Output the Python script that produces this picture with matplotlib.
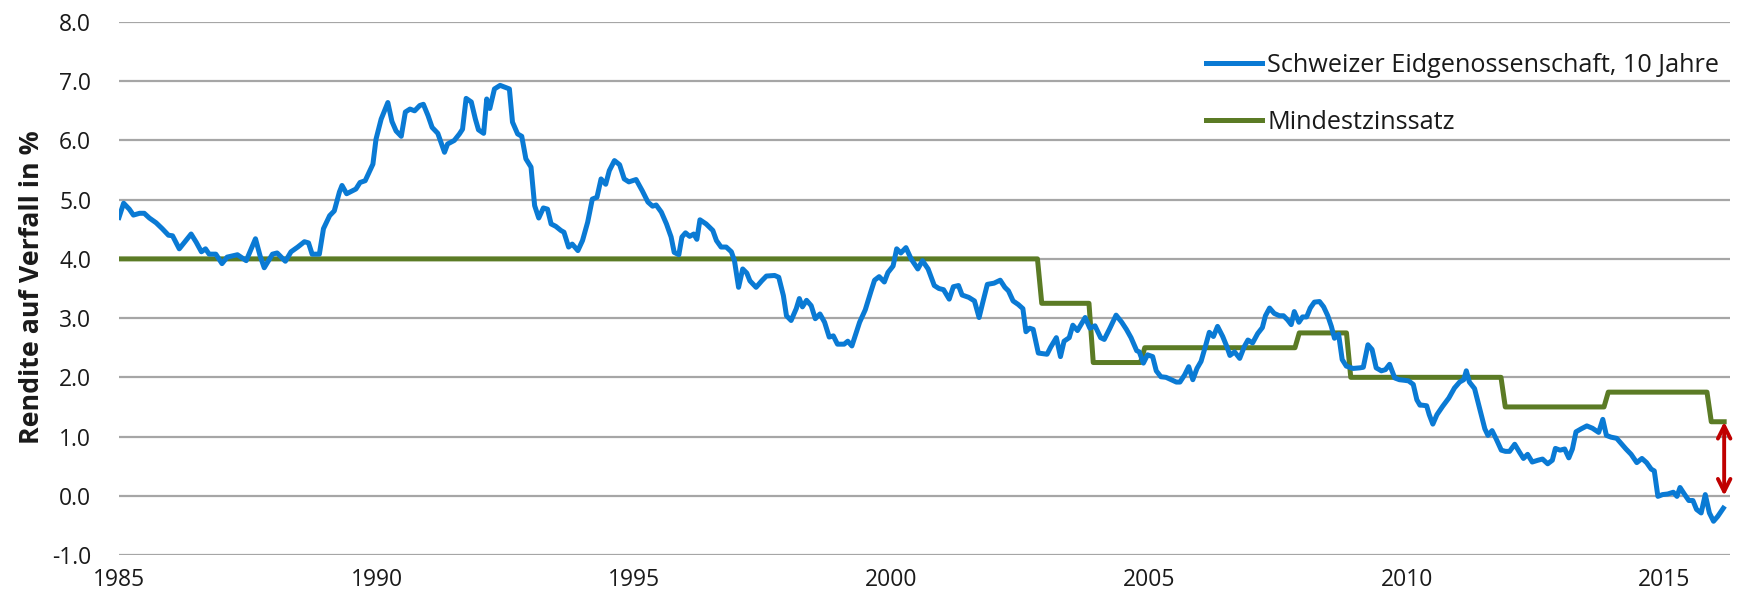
import numpy as np
import matplotlib
matplotlib.use("Agg")
import matplotlib.pyplot as plt

plt.rcParams['font.family'] = ['Open Sans', 'DejaVu Sans']
plt.rcParams['axes.unicode_minus'] = False

# Rendite Schweizer Eidgenossenschaft 10 Jahre (Datum als Dezimaljahr, Wert in %)
bond_dates = [
    1985.00, 1985.09, 1985.20, 1985.28, 1985.40, 1985.49, 1985.59, 1985.72, 1985.84, 1985.96,
    1986.04, 1986.17, 1986.27, 1986.40, 1986.50, 1986.60, 1986.68, 1986.75, 1986.88, 1987.00,
    1987.10, 1987.30, 1987.47, 1987.65, 1987.74, 1987.82, 1987.98, 1988.07, 1988.23, 1988.34,
    1988.47, 1988.60, 1988.68, 1988.75, 1988.89, 1988.97, 1989.09, 1989.18, 1989.28, 1989.33,
    1989.42, 1989.60, 1989.68, 1989.78, 1989.93, 1989.99, 1990.09, 1990.22, 1990.30, 1990.38,
    1990.48, 1990.56, 1990.65, 1990.74, 1990.84, 1990.91, 1991.00, 1991.08, 1991.19, 1991.32,
    1991.38, 1991.51, 1991.61, 1991.67, 1991.74, 1991.84, 1991.92, 1991.98, 1992.08, 1992.14,
    1992.20, 1992.29, 1992.40, 1992.58, 1992.64, 1992.74, 1992.82, 1992.90, 1993.00, 1993.07,
    1993.15, 1993.24, 1993.32, 1993.39, 1993.48, 1993.58, 1993.64, 1993.73, 1993.80, 1993.91,
    1994.00, 1994.10, 1994.19, 1994.28, 1994.36, 1994.45, 1994.52, 1994.62, 1994.72, 1994.81,
    1994.90, 1995.04, 1995.16, 1995.27, 1995.36, 1995.43, 1995.53, 1995.63, 1995.72, 1995.78,
    1995.87, 1995.93, 1996.00, 1996.08, 1996.16, 1996.22, 1996.28, 1996.40, 1996.53, 1996.60,
    1996.69, 1996.79, 1996.89, 1996.95, 1997.03, 1997.11, 1997.19, 1997.25, 1997.37, 1997.48,
    1997.57, 1997.73, 1997.81, 1997.90, 1997.96, 1998.05, 1998.15, 1998.21, 1998.27, 1998.35,
    1998.44, 1998.52, 1998.61, 1998.70, 1998.79, 1998.87, 1998.95, 1999.08, 1999.15, 1999.23,
    1999.38, 1999.49, 1999.60, 1999.67, 1999.76, 1999.86, 1999.93, 2000.03, 2000.10, 2000.18,
    2000.28, 2000.38, 2000.51, 2000.60, 2000.71, 2000.83, 2000.92, 2001.01, 2001.12, 2001.20,
    2001.30, 2001.37, 2001.50, 2001.61, 2001.70, 2001.77, 2001.86, 2001.99, 2002.11, 2002.20,
    2002.27, 2002.36, 2002.46, 2002.55, 2002.61, 2002.68, 2002.75, 2002.85, 2003.02, 2003.09,
    2003.20, 2003.28, 2003.35, 2003.45, 2003.52, 2003.61, 2003.76, 2003.85, 2003.95, 2004.06,
    2004.13, 2004.24, 2004.36, 2004.47, 2004.56, 2004.65, 2004.76, 2004.81, 2004.89, 2004.97,
    2005.07, 2005.14, 2005.23, 2005.33, 2005.43, 2005.53, 2005.60, 2005.69, 2005.77, 2005.85,
    2005.93, 2006.01, 2006.10, 2006.17, 2006.25, 2006.33, 2006.43, 2006.51, 2006.57, 2006.66,
    2006.76, 2006.85, 2006.92, 2007.01, 2007.11, 2007.20, 2007.26, 2007.34, 2007.43, 2007.53,
    2007.61, 2007.69, 2007.76, 2007.82, 2007.91, 2007.98, 2008.06, 2008.13, 2008.21, 2008.31,
    2008.39, 2008.47, 2008.54, 2008.60, 2008.68, 2008.75, 2008.83, 2008.96, 2009.09, 2009.16,
    2009.25, 2009.33, 2009.41, 2009.51, 2009.59, 2009.67, 2009.77, 2009.86, 2009.96, 2010.04,
    2010.13, 2010.20, 2010.26, 2010.30, 2010.39, 2010.44, 2010.51, 2010.59, 2010.70, 2010.82,
    2010.93, 2011.03, 2011.11, 2011.16, 2011.22, 2011.32, 2011.42, 2011.52, 2011.58, 2011.66,
    2011.74, 2011.84, 2011.92, 2012.00, 2012.10, 2012.19, 2012.27, 2012.35, 2012.44, 2012.55,
    2012.64, 2012.74, 2012.83, 2012.89, 2012.98, 2013.07, 2013.15, 2013.22, 2013.29, 2013.39,
    2013.50, 2013.61, 2013.73, 2013.81, 2013.88, 2013.97, 2014.08, 2014.17, 2014.26, 2014.36,
    2014.47, 2014.57, 2014.66, 2014.75, 2014.81, 2014.88, 2014.97, 2015.07, 2015.18, 2015.25,
    2015.31, 2015.40, 2015.48, 2015.56, 2015.63, 2015.72, 2015.80, 2015.88, 2015.96, 2016.04,
    2016.15,
]
bond_yield = [
    4.70, 4.94, 4.84, 4.74, 4.77, 4.77, 4.69, 4.61, 4.51, 4.40,
    4.39, 4.17, 4.28, 4.42, 4.28, 4.12, 4.17, 4.08, 4.08, 3.92,
    4.03, 4.07, 3.97, 4.34, 4.05, 3.85, 4.08, 4.10, 3.96, 4.12,
    4.20, 4.29, 4.27, 4.08, 4.08, 4.51, 4.73, 4.81, 5.13, 5.24,
    5.10, 5.18, 5.29, 5.32, 5.60, 6.02, 6.36, 6.64, 6.32, 6.16,
    6.07, 6.48, 6.53, 6.50, 6.59, 6.61, 6.42, 6.22, 6.12, 5.80,
    5.94, 6.00, 6.11, 6.19, 6.71, 6.65, 6.36, 6.18, 6.12, 6.70,
    6.54, 6.87, 6.93, 6.87, 6.31, 6.11, 6.07, 5.69, 5.55, 4.90,
    4.69, 4.86, 4.84, 4.59, 4.55, 4.48, 4.45, 4.20, 4.25, 4.14,
    4.31, 4.62, 5.01, 5.04, 5.35, 5.26, 5.49, 5.66, 5.59, 5.35,
    5.30, 5.34, 5.15, 4.96, 4.89, 4.91, 4.79, 4.59, 4.37, 4.11,
    4.07, 4.37, 4.44, 4.38, 4.42, 4.33, 4.66, 4.59, 4.48, 4.31,
    4.20, 4.20, 4.12, 3.97, 3.52, 3.83, 3.76, 3.63, 3.52, 3.63,
    3.71, 3.72, 3.69, 3.38, 3.04, 2.96, 3.16, 3.33, 3.19, 3.30,
    3.21, 2.99, 3.07, 2.93, 2.68, 2.70, 2.56, 2.56, 2.61, 2.53,
    2.93, 3.14, 3.45, 3.64, 3.70, 3.61, 3.77, 3.88, 4.17, 4.10,
    4.19, 4.00, 3.83, 3.97, 3.83, 3.55, 3.50, 3.48, 3.32, 3.53,
    3.55, 3.39, 3.35, 3.29, 3.01, 3.26, 3.57, 3.59, 3.64, 3.52,
    3.46, 3.29, 3.23, 3.16, 2.77, 2.83, 2.81, 2.41, 2.39, 2.51,
    2.67, 2.35, 2.61, 2.67, 2.88, 2.79, 3.01, 2.83, 2.87, 2.67,
    2.64, 2.83, 3.05, 2.93, 2.81, 2.67, 2.45, 2.43, 2.24, 2.38,
    2.35, 2.11, 2.01, 2.00, 1.96, 1.92, 1.92, 2.04, 2.18, 1.96,
    2.15, 2.27, 2.54, 2.76, 2.69, 2.86, 2.69, 2.52, 2.37, 2.43,
    2.32, 2.52, 2.63, 2.58, 2.74, 2.84, 3.04, 3.17, 3.08, 3.04,
    3.04, 2.97, 2.89, 3.11, 2.93, 3.02, 3.02, 3.17, 3.27, 3.28,
    3.19, 3.04, 2.86, 2.66, 2.73, 2.30, 2.19, 2.15, 2.16, 2.17,
    2.55, 2.47, 2.16, 2.11, 2.13, 2.22, 1.99, 1.96, 1.95, 1.94,
    1.88, 1.62, 1.53, 1.53, 1.52, 1.37, 1.21, 1.37, 1.51, 1.65,
    1.82, 1.92, 1.96, 2.11, 1.92, 1.81, 1.47, 1.13, 1.02, 1.10,
    0.96, 0.77, 0.75, 0.75, 0.87, 0.74, 0.63, 0.70, 0.57, 0.60,
    0.62, 0.54, 0.60, 0.80, 0.77, 0.79, 0.64, 0.79, 1.08, 1.13,
    1.18, 1.14, 1.07, 1.29, 1.02, 0.99, 0.97, 0.88, 0.79, 0.70,
    0.56, 0.63, 0.56, 0.45, 0.42, -0.01, 0.02, 0.03, 0.06, -0.01,
    0.14, 0.02, -0.08, -0.08, -0.23, -0.29, 0.02, -0.29, -0.43, -0.35,
    -0.21,
]

# BVG-Mindestzinssatz je Jahr
rate_years = list(range(1985, 2017))
min_rate = [4.0] * 18 + [3.25, 2.25, 2.5, 2.5, 2.5, 2.75, 2.0, 2.0, 2.0, 1.5, 1.5, 1.75, 1.75, 1.25]

# monthly series, month-end points (December already shows next year's rate)
n_months = (2016 - 1985) * 12 + 3
rate_x = 1985 + np.arange(n_months) / 12
rate_y = [min_rate[rate_years.index(int(np.floor(x + 1 / 12 + 1e-9)))] for x in rate_x]

blue = '#0A7AD4'
green = '#5B7B25'
red = '#C00000'

fig = plt.figure(figsize=(17.44, 6.05), dpi=100)
ax = fig.add_axes([119 / 1744, 1 - 555 / 605, 1611 / 1744, 533 / 605])

ax.plot(bond_dates, bond_yield, color=blue, lw=3.6, solid_joinstyle='round',
        label='Schweizer Eidgenossenschaft, 10 Jahre', zorder=3)
ax.plot(rate_x, rate_y, color=green, lw=3.6, label='Mindestzinssatz', zorder=2)

# Abstand zwischen Mindestzinssatz und Rendite
ax.annotate('', xy=(rate_x[-1], 0.0), xytext=(rate_x[-1], rate_y[-1]),
            arrowprops=dict(arrowstyle='<->, head_length=0.9, head_width=0.45',
                            color=red, lw=2.8, shrinkA=0, shrinkB=0), zorder=4)

ax.set_xlim(1985, 2016.28)
ax.set_ylim(-1, 8)
ax.set_xticks(range(1985, 2016, 5))
ax.set_yticks(range(-1, 9))
ax.set_yticklabels([f'{v:.1f}' for v in range(-1, 9)])
ax.yaxis.grid(True, color='#A6A6A6', lw=1.6)
ax.set_axisbelow(True)
for s in ax.spines.values():
    s.set_visible(False)
ax.tick_params(axis='both', length=0, labelsize=16.5, colors='#1a1a1a')
ax.tick_params(axis='y', pad=20)
ax.tick_params(axis='x', pad=9)

ax.set_ylabel('Rendite auf Verfall in %', fontsize=19.3, fontweight='bold', color='#1a1a1a')
ax.yaxis.set_label_coords(-0.046, 0.503)

leg = ax.legend(loc='upper left', bbox_to_anchor=(0.675, 0.942), frameon=False,
                fontsize=18.2, handlelength=2.2, handletextpad=0.2, labelspacing=1.25,
                borderpad=0, borderaxespad=0)
for t in leg.get_texts():
    t.set_color('#1a1a1a')

fig.savefig('out.png', dpi=100)
